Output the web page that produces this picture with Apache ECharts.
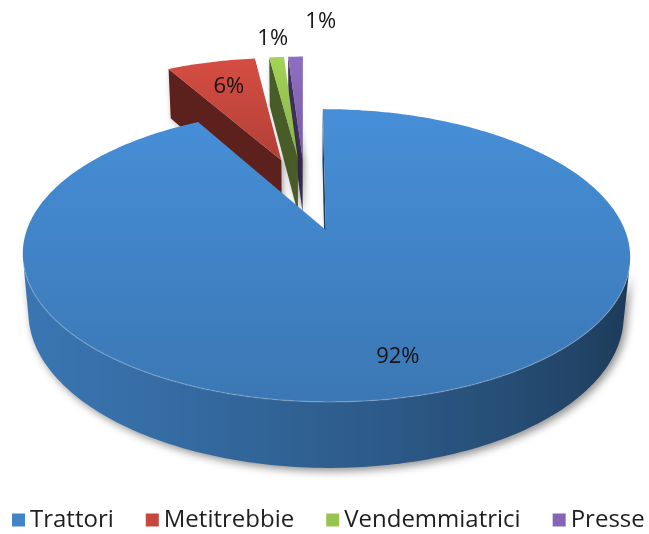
<!DOCTYPE html>
<html>
<head>
<meta charset="utf-8">
<script src="https://cdn.jsdelivr.net/npm/echarts@6/dist/echarts.min.js"></script>
<style>
  html, body { margin: 0; padding: 0; background: #ffffff; }
  #chart { width: 649px; height: 534px; }
</style>
</head>
<body>
<div id="chart"></div>
<script>
// Machine categories and their shares (%)
const categories = ['Trattori', 'Metitrebbie', 'Vendemmiatrici', 'Presse'];
const shares = [92, 6, 1, 1];

// Top-face colour of each slice
const palette = ['#4184c8', '#c6473d', '#97c451', '#8466b5'];

// Where each percentage label sits: radius (fraction of the disc) and angle nudge (deg)
const labelRadius = [0.80, 0.72, 1.22, 1.42];
const labelShift = [0, 0, 0, 5];

// Perspective view of the 3D disc
const VIEW = { cx: 305, cy: 193.3, k: 285.6, tilt: Math.asin(0.4534), dist: 5.37, height: 0.225, explode: 0.28 };
const SIN_T = Math.sin(VIEW.tilt), COS_T = Math.cos(VIEW.tilt);
const CAM = [0, VIEW.dist * SIN_T, -VIEW.dist * COS_T];
const TOTAL = shares.reduce((s, v) => s + v, 0);

function project(x, y, z) {
  const up = y * COS_T + z * SIN_T;
  const depth = z * COS_T - y * SIN_T;
  const s = VIEW.dist / (VIEW.dist + depth);
  return [VIEW.cx + VIEW.k * x * s, VIEW.cy - VIEW.k * up * s];
}

function facing(nx, nz, px, py, pz) {
  return nx * (CAM[0] - px) + nz * (CAM[2] - pz) > 0;
}

function hexToRgb(hex) {
  const n = parseInt(hex.slice(1), 16);
  return [(n >> 16) & 255, (n >> 8) & 255, n & 255];
}
function scale(hex, f) {
  const c = hexToRgb(hex).map(v => Math.max(0, Math.min(255, Math.round(v * f))));
  return 'rgb(' + c.join(',') + ')';
}

function sliceAngles(i, value) {
  let before = 0;
  for (let j = 0; j < i; j++) before += shares[j];
  const a = before / TOTAL * 2 * Math.PI;
  const b = (before + value) / TOTAL * 2 * Math.PI;
  const m = (a + b) / 2;
  return { a, b, m, ox: VIEW.explode * Math.sin(m), oz: VIEW.explode * Math.cos(m) };
}

// side-wall brightness from a light coming from the left-front
function wallFactor(theta) {
  const t = -0.95 * Math.sin(theta) - 0.3 * Math.cos(theta);
  return 0.64 + 0.25 * t;
}

function renderSlice(i, value) {
  const g = sliceAngles(i, value);
  const base = palette[i];
  const H = VIEW.height;
  const children = [];
  const steps = Math.max(2, Math.ceil((g.b - g.a) / (Math.PI / 180)));
  const samples = [];
  for (let s = 0; s <= steps; s++) {
    const th = g.a + (g.b - g.a) * s / steps;
    const x = g.ox + Math.sin(th), z = g.oz + Math.cos(th);
    samples.push({ th, x, z, vis: facing(Math.sin(th), Math.cos(th), x, 0, z) });
  }

  // outer wall, split into visible runs
  const runs = [];
  let cur = null;
  samples.forEach(p => {
    if (p.vis) { if (!cur) { cur = []; runs.push(cur); } cur.push(p); }
    else cur = null;
  });
  const rimLines = [];
  runs.forEach(run => {
    if (run.length < 2) return;
    const top = run.map(p => project(p.x, 0, p.z));
    const bot = run.map(p => project(p.x, -H, p.z));
    const xs = top.concat(bot).map(p => p[0]);
    const minX = Math.min.apply(null, xs), maxX = Math.max.apply(null, xs);
    const stops = run.map((p, k) => ({
      offset: (top[k][0] - minX) / Math.max(1, maxX - minX),
      color: scale(base, wallFactor(p.th))
    })).sort((u, v) => u.offset - v.offset);
    children.push({
      type: 'polygon',
      shape: { points: top.concat(bot.slice().reverse()) },
      style: {
        fill: { type: 'linear', x: minX, y: 0, x2: maxX, y2: 0, global: true, colorStops: stops },
        shadowBlur: 8, shadowColor: 'rgba(0,0,0,0.45)', shadowOffsetX: 3, shadowOffsetY: 3
      }
    });
    rimLines.push(top);
  });

  // radial cut faces
  const faces = [
    { th: g.a, nx: -Math.cos(g.a), nz: Math.sin(g.a) },
    { th: g.b, nx: Math.cos(g.b), nz: -Math.sin(g.b) }
  ];
  faces.forEach(f => {
    if (!facing(f.nx, f.nz, g.ox, 0, g.oz)) return;
    const rx = g.ox + Math.sin(f.th), rz = g.oz + Math.cos(f.th);
    children.push({
      type: 'polygon',
      shape: { points: [project(g.ox, 0, g.oz), project(rx, 0, rz), project(rx, -H, rz), project(g.ox, -H, g.oz)] },
      style: {
        fill: scale(base, 0.47),
        shadowBlur: 6, shadowColor: 'rgba(0,0,0,0.35)', shadowOffsetX: 2, shadowOffsetY: 2
      }
    });
  });

  // top face
  const topPts = [project(g.ox, 0, g.oz)].concat(samples.map(p => project(p.x, 0, p.z)));
  children.push({
    type: 'polygon',
    shape: { points: topPts },
    style: {
      fill: { type: 'linear', x: 0, y: 0, x2: 0, y2: 1,
        colorStops: [{ offset: 0, color: scale(base, 1.08) }, { offset: 1, color: scale(base, 0.9) }] }
    }
  });
  rimLines.forEach(line => {
    children.push({
      type: 'polyline',
      shape: { points: line },
      style: { stroke: 'rgba(255,255,255,0.18)', lineWidth: 1.5, fill: null }
    });
  });

  // percentage label
  const ang = g.m + labelShift[i] * Math.PI / 180;
  const r = labelRadius[i];
  const lp = project(g.ox + r * Math.sin(ang), 0, g.oz + r * Math.cos(ang));
  children.push({
    type: 'text',
    style: {
      text: Math.round(value / TOTAL * 100) + '%',
      x: lp[0], y: lp[1],
      fill: '#141414',
      fontSize: 22, fontFamily: '"Open Sans", sans-serif',
      align: 'center', verticalAlign: 'middle'
    }
  });

  return { type: 'group', children };
}

// paint the farthest slices first
const drawOrder = categories.map((_, i) => i).sort((p, q) => {
  const gp = sliceAngles(p, shares[p]), gq = sliceAngles(q, shares[q]);
  return gq.oz - gp.oz;
});

const chart = echarts.init(document.getElementById('chart'), null, { renderer: 'canvas' });
chart.setOption({
  animation: false,
  legend: {
    data: categories,
    left: 12,
    top: 508,
    width: 637,
    padding: 0,
    icon: 'rect',
    itemWidth: 13,
    itemHeight: 13,
    itemGap: 32,
    textStyle: { fontFamily: '"Open Sans", sans-serif', fontSize: 24, color: '#1e1e1e' }
  },
  series: drawOrder.map((i, order) => ({
    type: 'custom',
    name: categories[i],
    coordinateSystem: 'none',
    silent: true,
    z: 2 + order,
    itemStyle: { color: palette[i] },
    data: [[shares[i]]],
    renderItem: (params, api) => renderSlice(i, api.value(0))
  }))
});
</script>
</body>
</html>
